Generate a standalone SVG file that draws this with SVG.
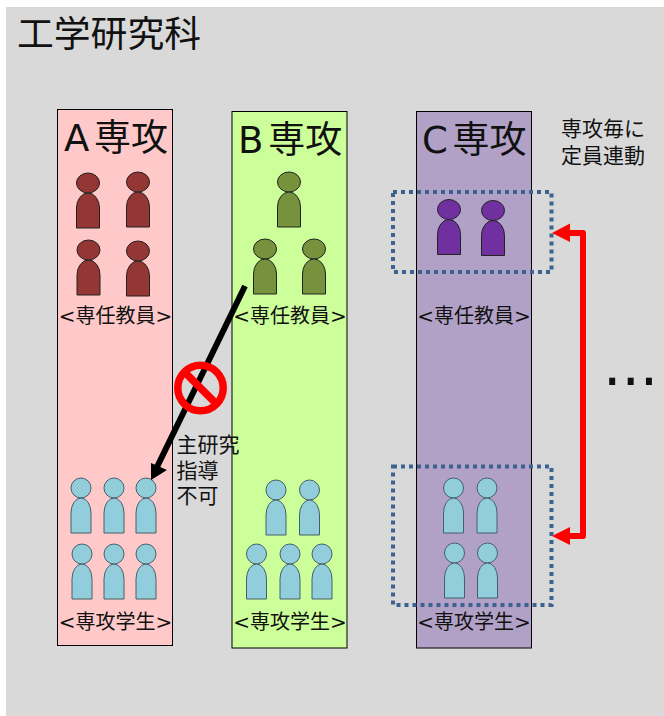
<svg xmlns="http://www.w3.org/2000/svg" width="664" height="716" viewBox="0 0 664 716">
<style>
text{font-family:"DejaVu Sans","Noto Sans CJK JP",sans-serif;fill:#111}
.t36{font-size:37px;word-spacing:-7px}.t20{font-size:20px}.t21{font-size:21px}
.m{text-anchor:middle}
.panel{stroke:#000;stroke-width:1}
.p1 use,.p2 use,.p3 use{stroke:#222;stroke-width:1}
.p1{fill:#943634}.p2{fill:#76923c}.p3{fill:#7030a0}.s{fill:#92cddc}
.s use{stroke:#44606a;stroke-width:1}
.dot{fill:none;stroke:#3b6290;stroke-width:4;stroke-dasharray:4 4}
</style>
<defs>
<g id="fac"><ellipse cx="0" cy="10" rx="11.500" ry="10"/><path d="M-11.500 55V35A11.500 15 0 0 1 11.500 35V55Z"/></g>
<g id="stu"><ellipse cx="0" cy="10" rx="10" ry="10"/><path d="M-10 55V35A10 15 0 0 1 10 35V55Z"/></g>
</defs>
<rect id="bg" x="6" y="7" width="658" height="709" fill="#d9d9d9"/>
<text id="title" x="17" y="47" font-size="36.800">工学研究科</text>
<g id="majorA">
<rect class="panel" x="57.500" y="109.500" width="115" height="536" fill="#ffc9c9"/>
<text class="t36" x="64" y="151">A 専攻</text>
<text class="t20 m" x="115.500" y="323">&lt;専任教員&gt;</text>
<text class="t20 m" x="115.500" y="629">&lt;専攻学生&gt;</text>
<g class="p1"><use href="#fac" x="88" y="173"/><use href="#fac" x="138" y="172"/><use href="#fac" x="88.500" y="240"/><use href="#fac" x="138" y="241"/></g>
<g class="s"><use href="#stu" x="81" y="478"/><use href="#stu" x="114" y="478"/><use href="#stu" x="146" y="478"/><use href="#stu" x="82" y="544"/><use href="#stu" x="114" y="544"/><use href="#stu" x="146" y="544"/></g>
</g>
<g id="majorB">
<rect class="panel" x="232" y="111.500" width="115" height="536.500" fill="#ccff99"/>
<text class="t36" x="238" y="153">B 専攻</text>
<text class="t20 m" x="290" y="323">&lt;専任教員&gt;</text>
<text class="t20 m" x="290" y="629">&lt;専攻学生&gt;</text>
<g class="p2"><use href="#fac" x="289" y="172"/><use href="#fac" x="265" y="239"/><use href="#fac" x="314" y="239"/></g>
<g class="s"><use href="#stu" x="276" y="480"/><use href="#stu" x="309.500" y="480"/><use href="#stu" x="256.500" y="544"/><use href="#stu" x="290" y="544"/><use href="#stu" x="322" y="544"/></g>
</g>
<g id="majorC">
<rect class="panel" x="416.500" y="111.500" width="115" height="536.500" fill="#b2a1c7"/>
<text class="t36" x="422" y="153">C 専攻</text>
<text class="t20 m" x="474" y="323">&lt;専任教員&gt;</text>
<text class="t20 m" x="474" y="629">&lt;専攻学生&gt;</text>
<g class="p3"><use href="#fac" x="449" y="199.500"/><use href="#fac" x="493" y="200.500"/></g>
<g class="s"><use href="#stu" x="453.500" y="478"/><use href="#stu" x="487" y="478"/><use href="#stu" x="454.500" y="543"/><use href="#stu" x="487.500" y="543"/></g>
</g>
<g id="groupFaculty"><rect class="dot" x="393" y="192" width="158.500" height="80"/></g>
<g id="groupStudents"><rect class="dot" x="393" y="466.500" width="158.500" height="138.500"/></g>
<g id="connectors">
<path d="M245 286L157 467" fill="none" stroke="#000" stroke-width="6"/>
<path d="M151 480L151 463L167 470Z" fill="#000"/>
<path d="M568 233H583V536H568" fill="none" stroke="#f00" stroke-width="6" stroke-linejoin="round"/>
<path d="M552 233L570 223.500V242Z" fill="#f00"/>
<path d="M552 536L570 527V545Z" fill="#f00"/>
</g>
<g id="noEntry" fill="none" stroke="#f00" stroke-width="7.500"><circle cx="200.500" cy="388" r="22.700"/><path d="M184.500 372L216.500 404"/></g>
<g id="labelNoGuidance"><text class="t21" x="176.500" y="452">主研究</text><text class="t21" x="176.500" y="478">指導</text><text class="t21" x="176.500" y="503">不可</text></g>
<g id="labelQuota"><text class="t21" x="561" y="136">専攻毎に</text><text class="t21" x="561" y="163">定員連動</text></g>
<text id="ellipsis" x="603" y="385" font-size="58">...</text>
</svg>
